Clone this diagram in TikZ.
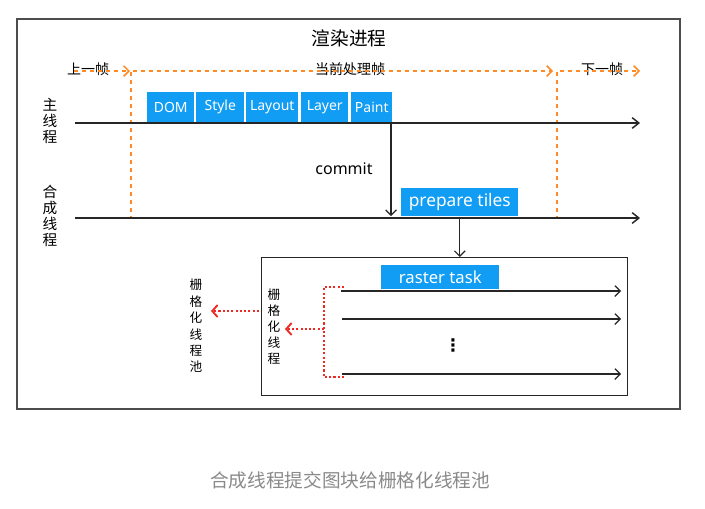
\documentclass[tikz,border=0pt]{standalone}
\usepackage{fontspec}
\setmainfont{Noto Sans}
\newfontfamily\cjk{Noto Sans CJK SC}
\newfontfamily\symfont{DejaVu Sans}
\usetikzlibrary{arrows.meta}
\definecolor{tileblue}{HTML}{119DF3}
\definecolor{frameorange}{HTML}{FF8A24}
\definecolor{poolred}{HTML}{EE2B22}
\definecolor{captiongray}{HTML}{8A8A8A}
\tikzset{
  px/.style={x=0.75pt,y=-0.75pt},
  stage/.style={fill=tileblue,text=white,inner sep=0pt,anchor=north west,font=\fontsize{10.5}{12}\selectfont},
  timeline/.style={draw=black!85,line width=1.1pt,-{Straight Barb[length=5pt,width=8pt]}},
  framearrow/.style={draw=frameorange,line width=1.1pt,dash pattern=on 3pt off 3pt,-{Straight Barb[length=4pt,width=8pt]}},
  framesep/.style={draw=frameorange,line width=1.1pt,dash pattern=on 3pt off 3pt},
  flowarrow/.style={draw=black!85,line width=0.9pt,-{Straight Barb[length=4pt,width=8pt]}},
  pooldots/.style={draw=poolred,line width=1.4pt,dash pattern=on 1.6pt off 1.6pt},
  poolarrow/.style={pooldots,-{Straight Barb[length=4pt,width=9pt]}},
  vlabel/.style={font=\cjk\fontsize{11}{12}\selectfont,align=center},
  smalllabel/.style={font=\cjk\fontsize{10.5}{12}\selectfont},
}
\begin{document}
\begin{tikzpicture}[px]
\useasboundingbox[fill=white] (0,0) rectangle (705,508);
% outer frame of the render process
\draw[black!70,line width=1.6pt] (17,19) rectangle (680,409);
\node[font=\cjk\fontsize{14}{16}\selectfont] (title) at (349,38) {渲染进程};

% frame markers
\coordinate (pa) at (74,71);
\coordinate (pb) at (130,71);
\coordinate (ca) at (133,71);
\coordinate (cb) at (553,71);
\coordinate (na) at (560,71);
\coordinate (nb) at (640,71);
\node[smalllabel] (prev) at (88,69) {上一帧};
\node[smalllabel] (cur) at (350,69) {当前处理帧};
\node[smalllabel] (next) at (602,69) {下一帧};
\draw[framearrow] (pa) -- (pb);
\draw[framearrow] (ca) -- (cb);
\draw[framearrow] (na) -- (nb);
\coordinate (s1t) at (131,72);
\coordinate (s1b) at (131,217);
\coordinate (s2t) at (557,72);
\coordinate (s2b) at (557,217);
\draw[framesep] (s1t) -- (s1b);
\draw[framesep] (s2t) -- (s2b);

% main thread
\node[vlabel] (mainlbl) at (50,121) {主\\线\\程};
\coordinate (m0) at (75,123);
\coordinate (m1) at (640,123);
\draw[timeline] (m0) -- (m1);
\node[stage,minimum width=35.25pt,minimum height=22.5pt] (dom) at (147,92) {DOM};
\node[stage,minimum width=36pt,minimum height=22.5pt] (style) at (196,92) {Style};
\node[stage,minimum width=39pt,minimum height=22.5pt] (layout) at (246,92) {Layout};
\node[stage,minimum width=35.25pt,minimum height=22.5pt] (layer) at (301,92) {Layer};
\node[stage,minimum width=30.75pt,minimum height=22.5pt] (paint) at (351,92) {Paint};

% compositor thread
\node[vlabel] (complbl) at (50,216) {合\\成\\线\\程};
\coordinate (c0) at (75,218);
\coordinate (c1) at (640,218);
\draw[timeline] (c0) -- (c1);
\node[stage,minimum width=87.75pt,minimum height=21pt,font=\fontsize{13}{14}\selectfont] (tiles) at (401,188) {prepare tiles};

% commit
\coordinate (cm0) at (391,124);
\coordinate (cm1) at (391,216);
\draw[flowarrow] (cm0) -- (cm1);
\node[font=\fontsize{12}{14}\selectfont] (commit) at (344,169) {commit};

% raster thread pool
\node[draw=black!85,line width=1pt,anchor=north west,minimum width=274.5pt,minimum height=103.5pt,inner sep=0pt] (pool) at (261,257) {};
\draw[flowarrow] (tiles.south) -- (pool.north -| tiles.south);
\node[stage,minimum width=88.5pt,minimum height=18pt,font=\fontsize{12.5}{14}\selectfont] (task) at (381,265) {raster task};
\coordinate (r1a) at (341,291);
\coordinate (r1b) at (621,291);
\coordinate (r2a) at (342,319);
\coordinate (r2b) at (621,319);
\coordinate (r3a) at (342,374);
\coordinate (r3b) at (621,374);
\draw[flowarrow] (r1a) -- (r1b);
\draw[flowarrow] (r2a) -- (r2b);
\draw[flowarrow] (r3a) -- (r3b);
\node[font=\symfont\bfseries\fontsize{13}{14}\selectfont] (dots) at (453,345) {⋮};

% raster threads and the pool they belong to
\node[vlabel,font=\cjk\fontsize{9.5}{12}\selectfont] (threads) at (274,327) {栅\\格\\化\\线\\程};
\node[vlabel,font=\cjk\fontsize{9.5}{12.3}\selectfont] (poollbl) at (196,326) {栅\\格\\化\\线\\程\\池};
\coordinate (bt) at (344,287);
\coordinate (bb) at (344,377);
\coordinate (bm) at (324,329);
\draw[pooldots] (bt) -- (bm |- bt) -- (bm |- bb) -- (bb);
\draw[poolarrow] (bm) -- (285,329);
\coordinate (pl) at (259,311);
\draw[poolarrow] (pl) -- (211,311);

% caption
\node[font=\cjk\fontsize{14}{16}\selectfont,text=captiongray] (caption) at (350,480) {合成线程提交图块给栅格化线程池};
\end{tikzpicture}
\end{document}
